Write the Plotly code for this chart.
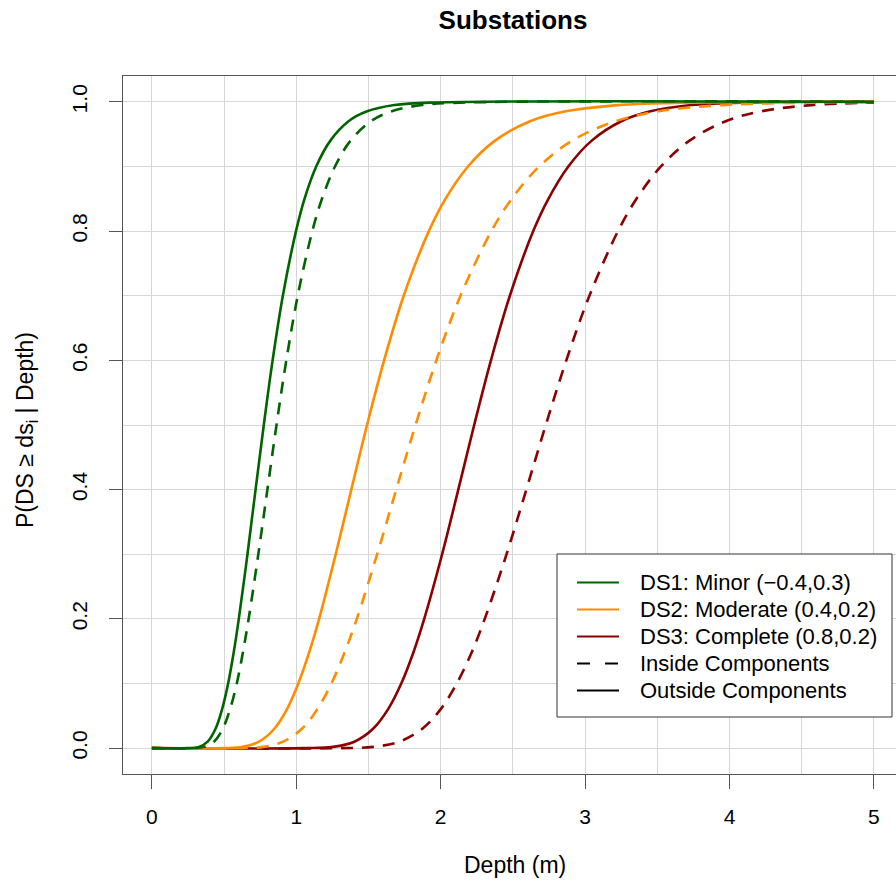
import plotly.graph_objects as go

# Fragility curves for substations: P(DS >= ds_i | flood depth), depth in metres
# DS1: Minor
ds1_out_depth = [0, 0.25, 0.327, 0.386, 0.441, 0.486, 0.528, 0.568, 0.602, 0.662, 0.718, 0.775, 0.836, 0.907, 0.998, 1.057, 1.138, 1.236, 1.362, 1.486, 1.679, 1.958, 5.0]
ds1_out_prob = [0, 0, 0.002, 0.01, 0.03, 0.06, 0.1, 0.15, 0.2, 0.3, 0.4, 0.5, 0.6, 0.7, 0.8, 0.85, 0.9, 0.94, 0.97, 0.985, 0.995, 0.999, 1.0]
ds1_in_depth = [0, 0.28, 0.364, 0.430, 0.491, 0.541, 0.588, 0.632, 0.670, 0.737, 0.800, 0.863, 0.931, 1.010, 1.111, 1.178, 1.268, 1.376, 1.517, 1.655, 1.869, 2.181, 5.0]
ds1_in_prob = [0, 0, 0.002, 0.01, 0.03, 0.06, 0.1, 0.15, 0.2, 0.3, 0.4, 0.5, 0.6, 0.7, 0.8, 0.85, 0.9, 0.94, 0.97, 0.985, 0.995, 0.999, 1.0]

# DS2: Moderate
ds2_out_depth = [0, 0.5, 0.628, 0.742, 0.848, 0.935, 1.014, 1.092, 1.158, 1.273, 1.381, 1.49, 1.608, 1.744, 1.918, 2.033, 2.189, 2.376, 2.619, 2.857, 3.227, 3.765, 5.0]
ds2_out_prob = [0, 0, 0.002, 0.01, 0.03, 0.06, 0.1, 0.15, 0.2, 0.3, 0.4, 0.5, 0.6, 0.7, 0.8, 0.85, 0.9, 0.94, 0.97, 0.985, 0.995, 0.999, 1.0]
ds2_in_depth = [0, 0.62, 0.770, 0.909, 1.039, 1.145, 1.243, 1.338, 1.419, 1.560, 1.692, 1.826, 1.970, 2.137, 2.351, 2.492, 2.682, 2.911, 3.210, 3.501, 3.955, 4.614, 5.0]
ds2_in_prob = [0, 0, 0.002, 0.01, 0.03, 0.06, 0.1, 0.15, 0.2, 0.3, 0.4, 0.5, 0.6, 0.7, 0.8, 0.85, 0.9, 0.94, 0.97, 0.985, 0.995, 0.999, 0.9997]

# DS3: Complete
ds3_out_depth = [0, 1.05, 1.255, 1.402, 1.532, 1.635, 1.727, 1.814, 1.886, 2.010, 2.122, 2.232, 2.348, 2.479, 2.641, 2.746, 2.884, 3.046, 3.251, 3.445, 3.736, 4.141, 5.0]
ds3_out_prob = [0, 0, 0.002, 0.01, 0.03, 0.06, 0.1, 0.15, 0.2, 0.3, 0.4, 0.5, 0.6, 0.7, 0.8, 0.85, 0.9, 0.94, 0.97, 0.985, 0.995, 0.999, 1.0]
ds3_in_depth = [0, 1.3, 1.534, 1.713, 1.873, 1.999, 2.111, 2.218, 2.305, 2.456, 2.593, 2.728, 2.870, 3.030, 3.228, 3.356, 3.525, 3.723, 3.974, 4.210, 4.567, 5.0]
ds3_in_prob = [0, 0, 0.002, 0.01, 0.03, 0.06, 0.1, 0.15, 0.2, 0.3, 0.4, 0.5, 0.6, 0.7, 0.8, 0.85, 0.9, 0.94, 0.97, 0.985, 0.995, 0.9988]

labels = ["DS1: Minor (\u22120.4,0.3)", "DS2: Moderate (0.4,0.2)", "DS3: Complete (0.8,0.2)"]
style_labels = ["Inside Components", "Outside Components"]
colors = ["#006400", "#FF8C00", "#8B0000"]

x_ticks = [0, 1, 2, 3, 4, 5]
y_ticks = [0.0, 0.2, 0.4, 0.6, 0.8, 1.0]

FONT = "Liberation Sans, Arial, sans-serif"
DASH = "12px,9px"
KEY_DASH = "13px,15px"
LW = 2.6

# plot area in pixels
PL, PR, PT, PB = 123, 896, 76, 774
W, H = 896, 881


def px(xp):
    return (xp - PL) / (PR - PL)


def py(yp):
    return (PB - yp) / (PB - PT)


curves = [
    (2, ds3_in_depth, ds3_in_prob, ds3_out_depth, ds3_out_prob),
    (1, ds2_in_depth, ds2_in_prob, ds2_out_depth, ds2_out_prob),
    (0, ds1_in_depth, ds1_in_prob, ds1_out_depth, ds1_out_prob),
]

fig = go.Figure()
for i, xin, yin, xout, yout in curves:
    fig.add_trace(go.Scatter(
        x=xin, y=yin, mode="lines", name=labels[i] + " \u2013 inside", showlegend=False,
        line=dict(color=colors[i], width=LW, dash=DASH, shape="spline", smoothing=1),
    ))
    fig.add_trace(go.Scatter(
        x=xout, y=yout, mode="lines", name=labels[i] + " \u2013 outside", showlegend=False,
        line=dict(color=colors[i], width=LW, shape="spline", smoothing=1),
    ))

fig.update_layout(
    width=W, height=H,
    margin=dict(l=PL, r=W - PR, t=PT, b=H - PB),
    plot_bgcolor="white", paper_bgcolor="white",
    font=dict(family=FONT, size=21, color="black"),
    title=dict(text="<b>Substations</b>", x=513 / W, xref="container", xanchor="center",
               y=1 - 20 / H, yref="container", yanchor="middle",
               font=dict(family=FONT, size=26, color="black")),
    showlegend=False,
)

fig.update_xaxes(
    range=[-0.2, -0.2 + (PR - PL) / 144.4], tickvals=x_ticks, ticktext=[str(v) for v in x_ticks],
    showline=True, linecolor="#555555", linewidth=1, mirror=True,
    ticks="outside", ticklen=14, tickcolor="#555555", ticklabelstandoff=10,
    showgrid=True, gridcolor="#d6d6d6", gridwidth=1, zeroline=False,
    minor=dict(dtick=0.5, tick0=0, showgrid=True, gridcolor="#d6d6d6", gridwidth=1, ticks=""),
)
fig.update_yaxes(
    range=[-0.04, 1.04], tickvals=y_ticks, ticktext=[f"{v:.1f}" for v in y_ticks],
    tickangle=-90,
    showline=True, linecolor="#555555", linewidth=1, mirror=False,
    ticks="outside", ticklen=13, tickcolor="#555555", ticklabelstandoff=14,
    showgrid=True, gridcolor="#d6d6d6", gridwidth=1, zeroline=False,
    minor=dict(dtick=0.1, tick0=0, showgrid=True, gridcolor="#d6d6d6", gridwidth=1, ticks=""),
)

# axis titles
fig.add_annotation(text="Depth (m)", xref="paper", yref="paper",
                   x=px(515), y=py(865), xanchor="center", yanchor="middle",
                   showarrow=False, font=dict(family=FONT, size=23, color="black"))
fig.add_annotation(text="P(DS \u2265 ds<sub>i</sub> | Depth)", xref="paper", yref="paper",
                   x=px(26), y=py(430), xanchor="center", yanchor="middle",
                   textangle=-90, showarrow=False, font=dict(family=FONT, size=23, color="black"))

# legend panel: frame, line keys and labels
LEG_X0, LEG_X1, LEG_Y0, LEG_Y1 = 557, 892, 554, 717
ROW0, ROW_STEP = 582.5, 27
KEY_X0, KEY_X1, TEXT_X = 577, 619, 638
fig.add_shape(type="rect", xref="paper", yref="paper",
              x0=px(LEG_X0), x1=px(LEG_X1), y0=py(LEG_Y1), y1=py(LEG_Y0),
              line=dict(color="#333333", width=1), fillcolor="white", layer="above")
legend_items = [(labels[k], colors[k], "solid") for k in range(3)]
legend_items += [(style_labels[0], "black", KEY_DASH), (style_labels[1], "black", "solid")]
for k, (text, col, dash) in enumerate(legend_items):
    yrow = ROW0 + k * ROW_STEP
    fig.add_shape(type="line", xref="paper", yref="paper",
                  x0=px(KEY_X0), x1=px(KEY_X1), y0=py(yrow), y1=py(yrow),
                  line=dict(color=col, width=2.2, dash=dash), layer="above")
    fig.add_annotation(text=text, xref="paper", yref="paper", x=px(TEXT_X), y=py(yrow),
                       xanchor="left", yanchor="middle", showarrow=False,
                       font=dict(family=FONT, size=22, color="black"))

fig.write_html("out.html")
